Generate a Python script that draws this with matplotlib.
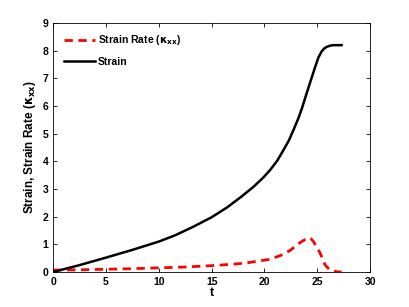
import numpy as np
import matplotlib.pyplot as plt

plt.rcParams['font.family'] = ['Liberation Sans', 'DejaVu Sans']
plt.rcParams['font.weight'] = 'bold'
plt.rcParams['mathtext.fontset'] = 'dejavusans'

t_strain = [0, 1, 2.5, 5, 7.5, 10, 11.5, 13.28, 15, 16.44, 17.8, 18.96, 19.9, 20.54,
            21.2, 21.8, 22.3, 22.74, 23.2, 23.53, 23.9, 24.32, 24.8, 25.1, 25.4, 25.65,
            25.9, 26.2, 26.5, 27.3]
strain = [0, 0.1, 0.25, 0.52, 0.8, 1.1, 1.32, 1.64, 1.98, 2.33, 2.72, 3.08, 3.42, 3.69,
          4.02, 4.41, 4.75, 5.13, 5.55, 5.9, 6.35, 6.85, 7.42, 7.75, 7.97, 8.08,
          8.14, 8.18, 8.2, 8.2]

t_rate = [0, 2.5, 5, 7.5, 10, 12.5, 15, 17, 18.5, 19.5, 20.54, 21.8, 22.5, 23.06, 23.6,
          24.16, 24.4, 24.64, 25.27, 25.74, 26.2, 26.85, 27.3]
rate = [0.07, 0.08, 0.1, 0.12, 0.15, 0.18, 0.23, 0.28, 0.34, 0.4, 0.46, 0.64, 0.8, 0.98, 1.12,
        1.24, 1.2, 1.1, 0.68, 0.25, 0.07, 0.01, 0.0]

fig = plt.figure(figsize=(4.09, 3.07), dpi=100)
ax = fig.add_axes([0.13, 0.114, 0.775, 0.811])

ax.plot(t_rate, rate, '--', color='red', lw=2, dashes=(3, 2),
        label=r'Strain Rate ($\mathrm{\kappa}_{\mathbf{xx}}$)')
ax.plot(t_strain, strain, '-', color='black', lw=1.8, label='Strain')

ax.set_xlim(0, 30)
ax.set_ylim(0, 9)
ax.set_xticks(range(0, 31, 5))
ax.set_yticks(range(0, 10))
ax.tick_params(direction='in', top=True, right=True, labelsize=7.5, length=3, width=0.6)
for s in ax.spines.values():
    s.set_linewidth(0.6)
ax.set_xlabel('t', fontsize=9, fontweight='bold', labelpad=0)
ax.set_ylabel(r'Strain, Strain Rate ($\mathrm{\kappa}_{\mathbf{xx}}$)', fontsize=8.5,
              fontweight='bold', labelpad=3)

ax.legend(loc='upper left', frameon=False, fontsize=7.5, handlelength=3, handletextpad=0.3,
          borderaxespad=0.6, labelspacing=0.9)

fig.savefig('out.png', dpi=100)
